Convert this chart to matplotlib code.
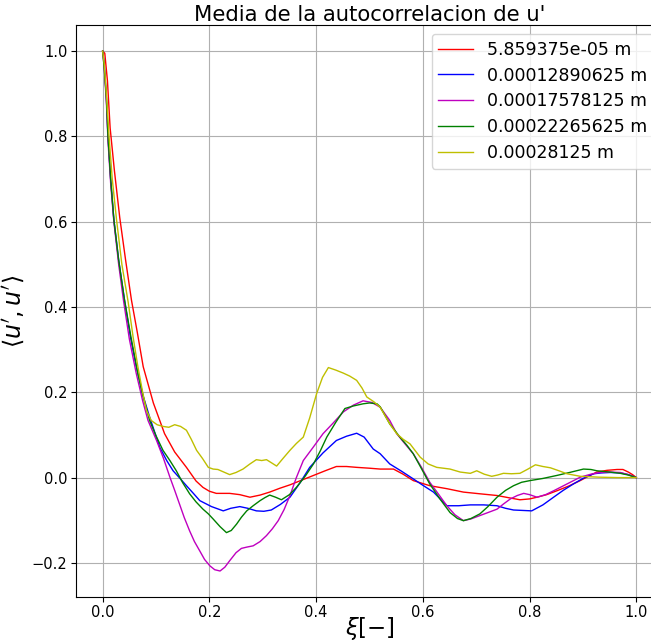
#!/usr/bin/env python3
"""Mean autocorrelation of u' for several separation distances."""

import matplotlib
import matplotlib.pyplot as plt

matplotlib.use("Agg")

labels = [
    "5.859375e-05 m",
    "0.00012890625 m",
    "0.00017578125 m",
    "0.00022265625 m",
    "0.00028125 m",
]
colors = ["r", "b", "m", "g", "y"]

xi_red = [0.0, 0.004, 0.009, 0.014, 0.022, 0.032, 0.043, 0.054, 0.065, 0.076, 0.095,
          0.116, 0.135, 0.157, 0.175, 0.188, 0.2, 0.213, 0.238, 0.257, 0.276, 0.295,
          0.313, 0.332, 0.351, 0.373, 0.395, 0.417, 0.438, 0.457, 0.476, 0.5, 0.52,
          0.545, 0.563, 0.582, 0.613, 0.645, 0.676, 0.707, 0.739, 0.76, 0.782, 0.8,
          0.814, 0.832, 0.851, 0.873, 0.895, 0.91, 0.926, 0.945, 0.964, 0.975, 0.985,
          0.993, 1.0]
u_red = [1.0, 0.995, 0.93, 0.82, 0.72, 0.61, 0.51, 0.416, 0.34, 0.26, 0.175,
         0.103, 0.06, 0.024, -0.008, -0.023, -0.032, -0.037, -0.037, -0.04, -0.046, -0.041,
         -0.034, -0.025, -0.017, -0.006, 0.005, 0.016, 0.026, 0.026, 0.024, 0.022, 0.02,
         0.02, 0.008, -0.007, -0.019, -0.026, -0.034, -0.038, -0.042, -0.047, -0.052, -0.05,
         -0.046, -0.04, -0.031, -0.02, -0.007, 0.003, 0.013, 0.017, 0.019, 0.019, 0.013,
         0.007, 0.0]

xi_blue = [0.0, 0.003, 0.007, 0.01, 0.015, 0.021, 0.03, 0.041, 0.052, 0.063, 0.075,
           0.088, 0.107, 0.12, 0.132, 0.145, 0.157, 0.17, 0.182, 0.204, 0.226, 0.24,
           0.257, 0.272, 0.288, 0.302, 0.316, 0.333, 0.351, 0.37, 0.388, 0.413, 0.438,
           0.457, 0.476, 0.49, 0.507, 0.52, 0.538, 0.56, 0.582, 0.6, 0.62, 0.645, 0.667,
           0.689, 0.714, 0.739, 0.755, 0.77, 0.787, 0.804, 0.825, 0.845, 0.863, 0.882,
           0.9, 0.92, 0.935, 0.951, 0.97, 0.985, 1.0]
u_blue = [1.0, 0.97, 0.89, 0.8, 0.7, 0.605, 0.51, 0.416, 0.33, 0.26, 0.195,
          0.142, 0.071, 0.04, 0.016, -0.002, -0.019, -0.037, -0.054, -0.068, -0.078, -0.072,
          -0.068, -0.072, -0.078, -0.079, -0.076, -0.063, -0.046, -0.012, 0.024, 0.058, 0.087,
          0.097, 0.104, 0.095, 0.067, 0.056, 0.032, 0.015, -0.003, -0.018, -0.034, -0.066, -0.066,
          -0.064, -0.064, -0.066, -0.072, -0.076, -0.077, -0.078, -0.064, -0.046, -0.03, -0.015,
          -0.002, 0.009, 0.011, 0.012, 0.011, 0.007, 0.0]

xi_mag = [0.0, 0.003, 0.007, 0.01, 0.015, 0.021, 0.03, 0.039, 0.05, 0.063, 0.075,
          0.085, 0.101, 0.114, 0.126, 0.135, 0.144, 0.153, 0.163, 0.172, 0.182, 0.191,
          0.201, 0.21, 0.22, 0.229, 0.238, 0.25, 0.26, 0.27, 0.282, 0.295, 0.307,
          0.318, 0.329, 0.34, 0.351, 0.363, 0.376, 0.395, 0.413, 0.432, 0.451, 0.47,
          0.488, 0.505, 0.52, 0.538, 0.551, 0.566, 0.582, 0.597, 0.613, 0.63, 0.645,
          0.66, 0.676, 0.69, 0.707, 0.722, 0.739, 0.751, 0.764, 0.777, 0.789, 0.8,
          0.814, 0.83, 0.845, 0.87, 0.895, 0.915, 0.932, 0.95, 0.97, 0.985, 1.0]
u_mag = [1.0, 0.96, 0.88, 0.79, 0.69, 0.6, 0.5, 0.416, 0.325, 0.244, 0.18,
         0.134, 0.087, 0.045, 0.001, -0.03, -0.062, -0.094, -0.125, -0.15, -0.172, -0.192,
         -0.207, -0.216, -0.219, -0.21, -0.195, -0.176, -0.166, -0.163, -0.16, -0.15, -0.136,
         -0.12, -0.101, -0.075, -0.042, 0.0, 0.04, 0.072, 0.103, 0.128, 0.154, 0.17,
         0.18, 0.176, 0.165, 0.134, 0.103, 0.08, 0.056, 0.025, -0.011, -0.04, -0.066,
         -0.087, -0.101, -0.097, -0.089, -0.082, -0.074, -0.062, -0.05, -0.042, -0.037, -0.04,
         -0.046, -0.04, -0.031, -0.015, 0.001, 0.008, 0.012, 0.013, 0.012, 0.007, 0.0]

xi_grn = [0.0, 0.003, 0.007, 0.01, 0.015, 0.021, 0.03, 0.041, 0.053, 0.066, 0.077,
          0.088, 0.1, 0.113, 0.126, 0.138, 0.15, 0.163, 0.175, 0.188, 0.198, 0.207,
          0.22, 0.232, 0.241, 0.251, 0.26, 0.27, 0.282, 0.295, 0.304, 0.313, 0.324,
          0.335, 0.35, 0.363, 0.38, 0.395, 0.408, 0.42, 0.437, 0.454, 0.47, 0.488,
          0.5, 0.514, 0.52, 0.538, 0.557, 0.57, 0.582, 0.597, 0.613, 0.632, 0.651,
          0.665, 0.676, 0.69, 0.707, 0.722, 0.739, 0.755, 0.77, 0.785, 0.801, 0.825,
          0.851, 0.875, 0.901, 0.915, 0.926, 0.95, 0.97, 0.985, 1.0]
u_grn = [1.0, 0.96, 0.89, 0.8, 0.7, 0.605, 0.51, 0.416, 0.33, 0.244, 0.185,
         0.134, 0.098, 0.064, 0.04, 0.016, -0.012, -0.038, -0.057, -0.074, -0.085, -0.097,
         -0.115, -0.129, -0.124, -0.109, -0.093, -0.078, -0.066, -0.054, -0.047, -0.041, -0.046,
         -0.052, -0.04, -0.023, 0.004, 0.032, 0.063, 0.095, 0.13, 0.162, 0.168, 0.173,
         0.175, 0.173, 0.166, 0.126, 0.095, 0.076, 0.056, 0.022, -0.015, -0.05, -0.082,
         -0.096, -0.101, -0.096, -0.085, -0.068, -0.046, -0.03, -0.019, -0.011, -0.007, -0.002,
         0.005, 0.012, 0.02, 0.019, 0.016, 0.013, 0.01, 0.006, 0.0]

xi_yel = [0.0, 0.003, 0.007, 0.012, 0.018, 0.026, 0.036, 0.048, 0.057, 0.066, 0.075,
          0.082, 0.091, 0.102, 0.113, 0.124, 0.135, 0.146, 0.157, 0.166, 0.176, 0.187,
          0.198, 0.207, 0.216, 0.227, 0.238, 0.25, 0.263, 0.276, 0.288, 0.298, 0.307,
          0.316, 0.326, 0.338, 0.351, 0.363, 0.376, 0.388, 0.401, 0.412, 0.423, 0.437,
          0.451, 0.463, 0.476, 0.486, 0.495, 0.508, 0.52, 0.538, 0.551, 0.563, 0.576,
          0.595, 0.61, 0.626, 0.651, 0.67, 0.689, 0.701, 0.715, 0.729, 0.74, 0.751,
          0.766, 0.782, 0.797, 0.811, 0.825, 0.839, 0.855, 0.87, 0.895, 0.93, 0.965, 1.0]
u_yel = [1.0, 0.97, 0.9, 0.8, 0.7, 0.605, 0.5, 0.41, 0.33, 0.26, 0.2,
         0.158, 0.134, 0.124, 0.12, 0.118, 0.124, 0.12, 0.111, 0.09, 0.064, 0.045,
         0.024, 0.02, 0.019, 0.013, 0.007, 0.012, 0.02, 0.032, 0.042, 0.04, 0.042,
         0.035, 0.027, 0.045, 0.064, 0.08, 0.095, 0.14, 0.197, 0.235, 0.258, 0.252,
         0.245, 0.238, 0.228, 0.21, 0.189, 0.178, 0.165, 0.126, 0.103, 0.09, 0.079,
         0.048, 0.032, 0.024, 0.02, 0.013, 0.01, 0.016, 0.008, 0.003, 0.006, 0.01,
         0.009, 0.01, 0.02, 0.03, 0.026, 0.023, 0.016, 0.009, 0.003, 0.001, 0.0, 0.0]

series = [
    (xi_red, u_red),
    (xi_blue, u_blue),
    (xi_mag, u_mag),
    (xi_grn, u_grn),
    (xi_yel, u_yel),
]

fig = plt.figure(figsize=(6.51, 6.44), dpi=100)
# the reference is cropped on the right, so the axes run past the figure edge
ax = fig.add_axes([0.1167, 0.073, 0.9017, 0.888])

for (xi, u), label, color in zip(series, labels, colors):
    ax.plot(xi, u, color=color, linewidth=1, label=label)

ax.set_xlabel(r"$\xi [-]$", fontsize=16.5, labelpad=-4)
ax.set_ylabel(r"$\langle u', u' \rangle$", fontsize=17)
ax.set_title("Media de la autocorrelacion de u'", fontsize=15.2, pad=3)
ax.tick_params(labelsize=10.5, pad=2.5)
ax.grid(True)
ax.legend(loc="upper right", fontsize=12.5, labelspacing=0.45)

plt.savefig("out.png", dpi=100)
plt.close()
